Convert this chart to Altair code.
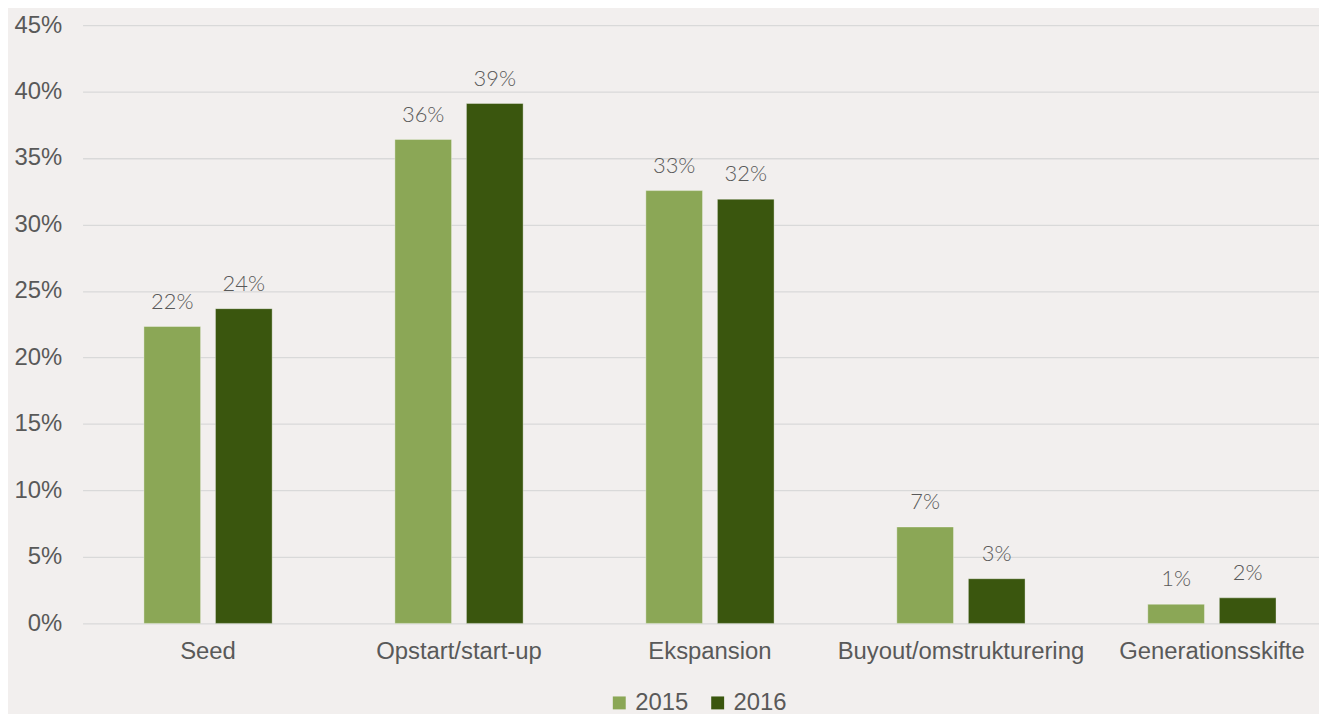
import altair as alt
import pandas as pd

categories = ["Seed", "Opstart/start-up", "Ekspansion", "Buyout/omstrukturering", "Generationsskifte"]
years = ["2015", "2016"]
values_2015 = [22.33, 36.4, 32.55, 7.25, 1.44]
values_2016 = [23.67, 39.1, 31.9, 3.36, 1.92]
y_ticks = [0, 5, 10, 15, 20, 25, 30, 35, 40, 45]


def pct_label(v):
    return f"{int(v + 0.5)}%"


rows = []
for c, a, b in zip(categories, values_2015, values_2016):
    rows.append({"category": c, "year": "2015", "value": a, "label": pct_label(a)})
    rows.append({"category": c, "year": "2016", "value": b, "label": pct_label(b)})
df = pd.DataFrame(rows)

x_enc = alt.X("category:N", sort=categories, title=None,
              scale=alt.Scale(range=[0, 1262.5], paddingInner=0.489, paddingOuter=0.2445),
              axis=alt.Axis(labelAngle=0, ticks=False, domain=False, labelPadding=16,
                            labelFontSize=24, labelColor="#595959", labelFont="Liberation Sans",
                            labelLimit=500, labelOverlap=False))
xoff = alt.XOffset("year:N", sort=years, scale=alt.Scale(paddingInner=0.208, paddingOuter=0))
y_enc = alt.Y("value:Q", title=None,
              scale=alt.Scale(domain=[0, 45], nice=False),
              axis=alt.Axis(values=y_ticks, labelExpr="datum.value + '%'", ticks=False, domain=False,
                            labelPadding=21, labelFontSize=24, labelColor="#595959",
                            labelFont="Liberation Sans", gridColor="#D9D9D9", gridWidth=1.3))

base = alt.Chart(df)

bars = base.mark_bar(stroke="white", strokeOpacity=0.35, strokeWidth=1).encode(
    x=x_enc,
    xOffset=xoff,
    y=y_enc,
    color=alt.Color("year:N", sort=years,
                    scale=alt.Scale(domain=years, range=["#8BA756", "#3A560E"]),
                    legend=alt.Legend(title=None, orient="none", legendX=528, legendY=670,
                                      direction="horizontal", symbolType="square", symbolSize=169,
                                      symbolStrokeWidth=0, labelFontSize=24, labelColor="#595959",
                                      labelFont="Liberation Sans", labelOffset=4, columnPadding=17,
                                      padding=0)),
)

labels = base.mark_text(baseline="alphabetic", dy=-18, fontSize=22, font="Lato",
                        fontWeight=300, color="#595959").encode(
    x=alt.X("category:N", sort=categories),
    xOffset=alt.XOffset("year:N", sort=years),
    y=alt.Y("value:Q"),
    text="label:N",
)

chart = alt.layer(bars, labels).properties(
    width=1244, height=602,
    autosize=alt.AutoSizeParams(type="none"),
    padding={"left": 75, "top": 15, "right": 0, "bottom": 89},
    background="#F2EFEE",
).configure_view(stroke=None)

chart.save("out.html", embed_options={"renderer": "svg", "actions": False})
